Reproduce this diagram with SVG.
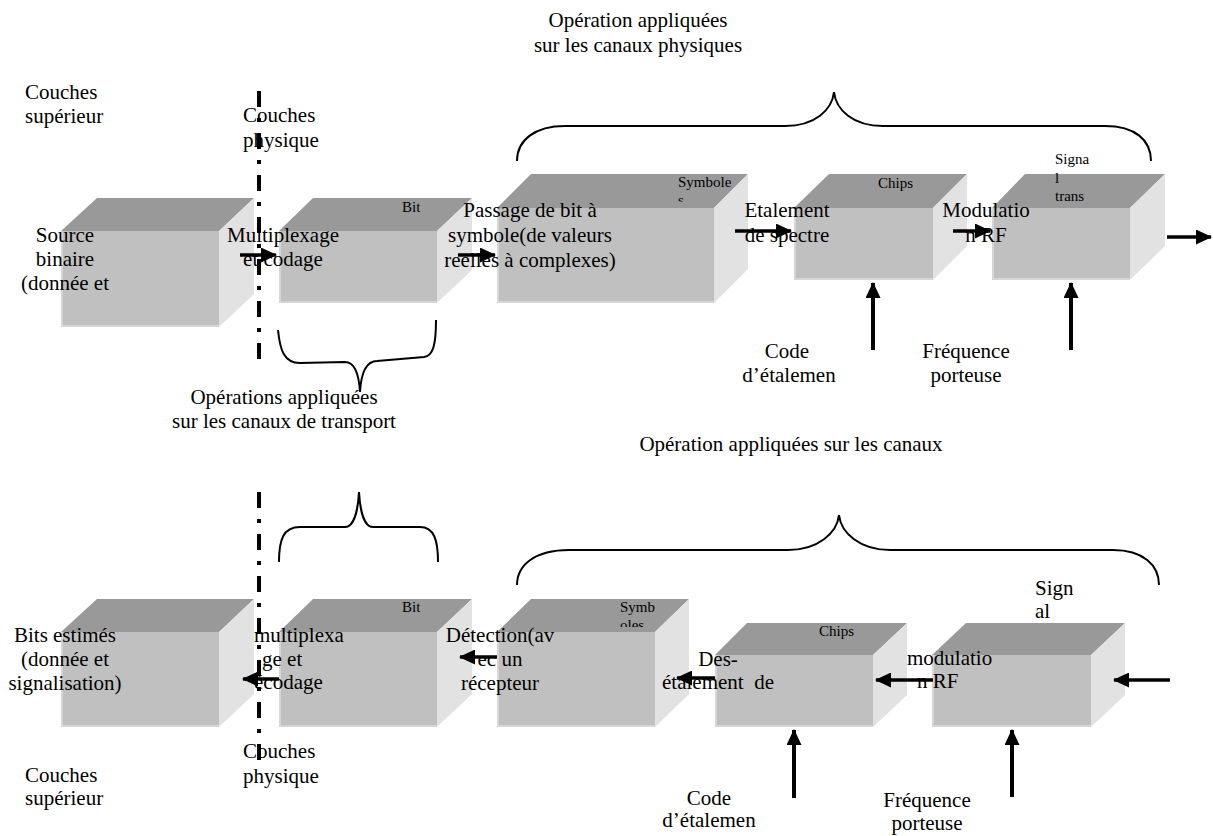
<svg xmlns="http://www.w3.org/2000/svg" width="1213" height="836" viewBox="0 0 1213 836">
<style>
.t{font-family:"Liberation Serif","Times New Roman",serif;font-size:21px;fill:#000}
.s{font-family:"Liberation Serif","Times New Roman",serif;font-size:15px;fill:#000}
.m{text-anchor:middle}
.top{fill:#999999}
.front{fill:#c0c0c0}
.side{fill:#e2e2e2}
.edge{stroke:#d6d6d6;stroke-width:2;fill:none}
.arr{stroke:#000;stroke-width:3.5;fill:none;marker-end:url(#ah)}
.varr{stroke:#000;stroke-width:4;fill:none;marker-end:url(#ah)}
.brace{stroke:#000;stroke-width:2;fill:none}
.dd{stroke:#000;stroke-width:4;stroke-dasharray:16 11 4 11;fill:none}
</style>
<defs>
<marker id="ah" markerUnits="userSpaceOnUse" markerWidth="16" markerHeight="15" refX="15" refY="7.5" orient="auto">
<path d="M0,0 L16,7.5 L0,15 Z" fill="#000"/>
</marker>
<clipPath id="c1"><rect x="660" y="170" width="90" height="31.5"/></clipPath>
<clipPath id="c2"><rect x="600" y="595" width="80" height="32"/></clipPath>
</defs>
<rect width="1213" height="836" fill="#fff"/>

<g id="box-source">
<polygon class="top" points="61,231 97,198 254,198 219,231"/>
<polygon class="side" points="219,231 254,198 254,294 219,327"/>
<rect class="front" x="61" y="231" width="158" height="96"/>
<polyline class="edge" points="62,231 62,326 219,326"/>
</g>
<g id="box-multiplexage">
<polygon class="top" points="279,231 313,198 472,198 437,231"/>
<polygon class="side" points="437,231 472,198 472,270 437,303"/>
<rect class="front" x="279" y="231" width="158" height="72"/>
<polyline class="edge" points="280,231 280,302 437,302"/>
</g>
<g id="box-passage">
<polygon class="top" points="497,208 531,174 748,174 714,208"/>
<polygon class="side" points="714,208 748,174 748,269 714,303"/>
<rect class="front" x="497" y="208" width="217" height="95"/>
<polyline class="edge" points="498,208 498,302 714,302"/>
</g>
<g id="box-etalement">
<polygon class="top" points="794,208 829,174 967,174 933,208"/>
<polygon class="side" points="933,208 967,174 967,246 933,280"/>
<rect class="front" x="794" y="208" width="139" height="72"/>
<polyline class="edge" points="795,208 795,279 933,279"/>
</g>
<g id="box-modulation">
<polygon class="top" points="992,208 1025,174 1165,174 1130,208"/>
<polygon class="side" points="1130,208 1165,174 1165,246 1130,280"/>
<rect class="front" x="992" y="208" width="138" height="72"/>
<polyline class="edge" points="993,208 993,279 1130,279"/>
</g>

<g id="box-bits-estimes">
<polygon class="top" points="61,632 97,599 254,599 219,632"/>
<polygon class="side" points="219,632 254,599 254,694 219,727"/>
<rect class="front" x="61" y="632" width="158" height="95"/>
<polyline class="edge" points="62,632 62,726 219,726"/>
</g>
<g id="box-demultiplexage">
<polygon class="top" points="279,632 313,599 472,599 437,632"/>
<polygon class="side" points="437,632 472,599 472,694 437,727"/>
<rect class="front" x="279" y="632" width="158" height="95"/>
<polyline class="edge" points="280,632 280,726 437,726"/>
</g>
<g id="box-detection">
<polygon class="top" points="497,632 531,599 689,599 655,632"/>
<polygon class="side" points="655,632 689,599 689,694 655,727"/>
<rect class="front" x="497" y="632" width="158" height="95"/>
<polyline class="edge" points="498,632 498,726 655,726"/>
</g>
<g id="box-desetalement">
<polygon class="top" points="715,655 747,623 907,623 873,655"/>
<polygon class="side" points="873,655 907,623 907,695 873,727"/>
<rect class="front" x="715" y="655" width="158" height="72"/>
<polyline class="edge" points="716,655 716,726 873,726"/>
</g>
<g id="box-demodulation">
<polygon class="top" points="932,655 966,623 1125,623 1091,655"/>
<polygon class="side" points="1091,655 1125,623 1125,695 1091,727"/>
<rect class="front" x="932" y="655" width="159" height="72"/>
<polyline class="edge" points="933,655 933,726 1091,726"/>
</g>

<g id="labels">
<text class="t" x="25" y="99">Couches</text>
<text class="t" x="25" y="123">supérieur</text>
<text class="t" x="243" y="122">Couches</text>
<text class="t" x="243" y="147">physique</text>
<text class="t m" x="638" y="27">Opération appliquées</text>
<text class="t m" x="638" y="52">sur les canaux physiques</text>
<text class="t m" x="65" y="242">Source</text>
<text class="t m" x="65" y="266">binaire</text>
<text class="t m" x="65" y="290">(donnée et</text>
<text class="t m" x="283" y="242">Multiplexage</text>
<text class="t m" x="283" y="266">et codage</text>
<text class="s" x="402" y="212">Bit</text>
<text class="t m" x="530" y="217">Passage de bit à</text>
<text class="t m" x="530" y="242">symbole(de valeurs</text>
<text class="t m" x="530" y="267">reelles à complexes)</text>
<text class="s" x="678" y="187">Symbole</text>
<text class="s" x="678" y="205" clip-path="url(#c1)">s</text>
<text class="t m" x="787" y="217">Etalement</text>
<text class="t m" x="787" y="242">de spectre</text>
<text class="s" x="878" y="188">Chips</text>
<text class="t m" x="986" y="217">Modulatio</text>
<text class="t m" x="986" y="242">n RF</text>
<text class="s" x="1055" y="164">Signa</text>
<text class="s" x="1055" y="183">l</text>
<text class="s" x="1055" y="201">trans</text>
<text class="t m" x="787" y="358">Code</text>
<text class="t m" x="789" y="382">d’étalemen</text>
<text class="t m" x="966" y="358">Fréquence</text>
<text class="t m" x="966" y="382">porteuse</text>
<text class="t m" x="284" y="404">Opérations appliquées</text>
<text class="t m" x="284" y="428">sur les canaux de transport</text>
<text class="t m" x="791" y="451">Opération appliquées sur les canaux</text>
<text class="t" x="1035" y="595">Sign</text>
<text class="t" x="1035" y="618">al</text>
<text class="t m" x="65" y="642">Bits estimés</text>
<text class="t m" x="65" y="666">(donnée et</text>
<text class="t m" x="65" y="690">signalisation)</text>
<text class="t" x="254" y="642">multiplexa</text>
<text class="t" x="262" y="666">ge et</text>
<text class="t" x="254" y="689">écodage</text>
<text class="s" x="402" y="612">Bit</text>
<text class="t m" x="500" y="642">Détection(av</text>
<text class="t m" x="500" y="666">ec un</text>
<text class="t m" x="500" y="690">récepteur</text>
<text class="s" x="620" y="612">Symb</text>
<text class="s" x="620" y="630" clip-path="url(#c2)">oles</text>
<text class="s" x="819" y="636">Chips</text>
<text class="t m" x="718" y="666">Des-</text>
<text class="t m" x="718" y="689" style="white-space:pre">étalement  de</text>
<text class="t" x="907" y="665">modulatio</text>
<text class="t" x="917" y="688">n RF</text>
<text class="t" x="243" y="758">Couches</text>
<text class="t" x="243" y="783">physique</text>
<text class="t" x="25" y="782">Couches</text>
<text class="t" x="25" y="805">supérieur</text>
<text class="t m" x="709" y="805">Code</text>
<text class="t m" x="709" y="827">d’étalemen</text>
<text class="t m" x="927" y="807">Fréquence</text>
<text class="t m" x="927" y="830">porteuse</text>
</g>

<g id="connectors">
<path class="dd" d="M259,91 L259,370"/>
<path class="dd" d="M259,492 L259,770"/>
<path class="brace" d="M517,161 C517,140 535,126 565,126 L785,126 C815,126 832,110 834,92 C836,110 853,126 883,126 L1105,126 C1135,126 1151,140 1151,161"/>
<path class="brace" d="M517,585 C517,565 535,550 569,550 L788,550 C818,550 837,533 839,515 C841,533 860,550 890,550 L1113,550 C1143,550 1159,565 1159,585"/>
<path class="brace" d="M278,330 C280,350 284,363 300,363 L345,362 C355,362 359,375 360,392 C361,375 365,361 377,361 L424,357 C433,356 436,345 436,320"/>
<path class="brace" d="M279,562 C279,540 283,527 300,527 L345,527 C354,527 358,510 359,492 C360,510 364,527 373,527 L420,527 C434,527 438,540 438,562"/>
<line class="arr" x1="240" y1="255" x2="276" y2="255"/>
<line class="arr" x1="458" y1="255" x2="495" y2="255"/>
<line class="arr" x1="735" y1="231" x2="791" y2="231"/>
<line class="arr" x1="953" y1="231" x2="990" y2="231"/>
<line class="arr" x1="1167" y1="237" x2="1211" y2="237"/>
<line class="varr" x1="873" y1="350" x2="873" y2="283"/>
<line class="varr" x1="1071" y1="350" x2="1071" y2="283"/>
<line class="arr" x1="279" y1="679" x2="243" y2="679"/>
<line class="arr" x1="497" y1="657" x2="460" y2="657"/>
<line class="arr" x1="715" y1="678" x2="677" y2="678"/>
<line class="arr" x1="933" y1="680" x2="876" y2="680"/>
<line class="arr" x1="1170" y1="680" x2="1114" y2="680"/>
<line class="varr" x1="794" y1="798" x2="794" y2="730"/>
<line class="varr" x1="1012" y1="797" x2="1012" y2="730"/>
</g>
</svg>
